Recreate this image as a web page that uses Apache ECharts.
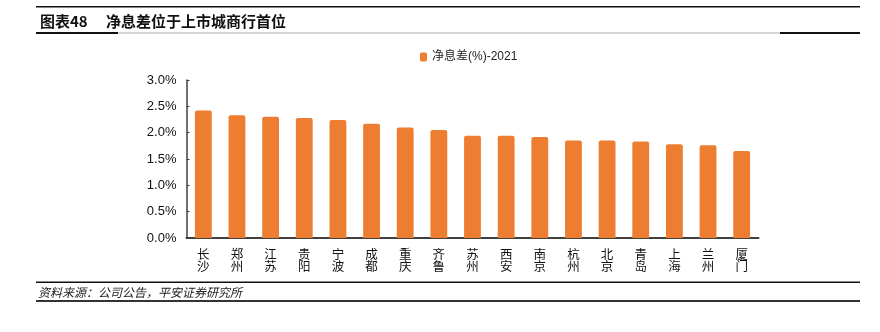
<!DOCTYPE html>
<html><head><meta charset="utf-8">
<script src="https://cdn.jsdelivr.net/npm/echarts@6/dist/echarts.min.js"></script>
<style>html,body{margin:0;padding:0;background:#fff}#c{width:880px;height:332px}</style>
</head><body><div id="c"></div>
<script>
const categories = ['长沙','郑州','江苏','贵阳','宁波','成都','重庆','齐鲁','苏州','西安','南京','杭州','北京','青岛','上海','兰州','厦门'];
const nim2021 = [2.42,2.33,2.30,2.28,2.24,2.17,2.10,2.05,1.94,1.94,1.92,1.85,1.85,1.83,1.78,1.76,1.65];
const seriesName = '净息差(%)-2021';
const titleText = '图表48　 净息差位于上市城商行首位';
const sourceText = '资料来源：公司公告，平安证券研究所';

const FONT = '"Liberation Sans", "Noto Sans CJK SC", sans-serif';
const chart = echarts.init(document.getElementById('c'), null, {renderer:'canvas'});
chart.setOption({
  animation:false,
  textStyle:{fontFamily:FONT},
  legend:{
    data:[seriesName], left:415, top:46, itemWidth:7, itemHeight:9, itemGap:6,
    icon:'roundRect',
    textStyle:{fontSize:12, color:'#222', fontFamily:FONT}
  },
  grid:{left:186.5, right:121.5, top:80, bottom:94},
  xAxis:{
    type:'category', data:categories,
    axisLine:{lineStyle:{color:'#404040', width:2}},
    axisTick:{inside:true, length:4, lineStyle:{color:'#404040', width:1}},
    axisLabel:{
      color:'#111', fontSize:12.5, lineHeight:12.5, margin:11,
      formatter: v => v.split('').join('\n')
    }
  },
  yAxis:{
    type:'value', min:0, max:3, interval:0.5,
    splitLine:{show:false},
    axisLine:{show:true, lineStyle:{color:'#404040', width:1.5}},
    axisTick:{show:true, inside:true, length:3, lineStyle:{color:'#404040'}},
    axisLabel:{color:'#111', fontSize:13, margin:10, formatter: v => v.toFixed(1)+'%'}
  },
  series:[{
    name:seriesName, type:'bar', data:nim2021, barWidth:'50%',
    itemStyle:{color:'#ED7D31', borderRadius:[2,2,0,0]}
  }],
  graphic:[
    {type:'rect', shape:{x:36, y:6, width:824, height:1.5}, style:{fill:'#111'}},
    {type:'text', x:40, y:14, style:{text:titleText, fill:'#111', font:'bold 15px "Noto Sans CJK SC", sans-serif'}},
    {type:'rect', shape:{x:36, y:32.5, width:824, height:1}, style:{fill:'#aaa'}},
    {type:'rect', shape:{x:36, y:32, width:82, height:2}, style:{fill:'#111'}},
    {type:'rect', shape:{x:780, y:32, width:80, height:2}, style:{fill:'#111'}},
    {type:'rect', shape:{x:36, y:281.5, width:824, height:1.5}, style:{fill:'#111'}},
    {type:'text', x:38, y:286, style:{text:sourceText, fill:'#222', font:'italic 12px "Noto Sans CJK SC", sans-serif'}},
    {type:'rect', shape:{x:36, y:300, width:824, height:2}, style:{fill:'#333'}}
  ]
});
</script></body></html>
